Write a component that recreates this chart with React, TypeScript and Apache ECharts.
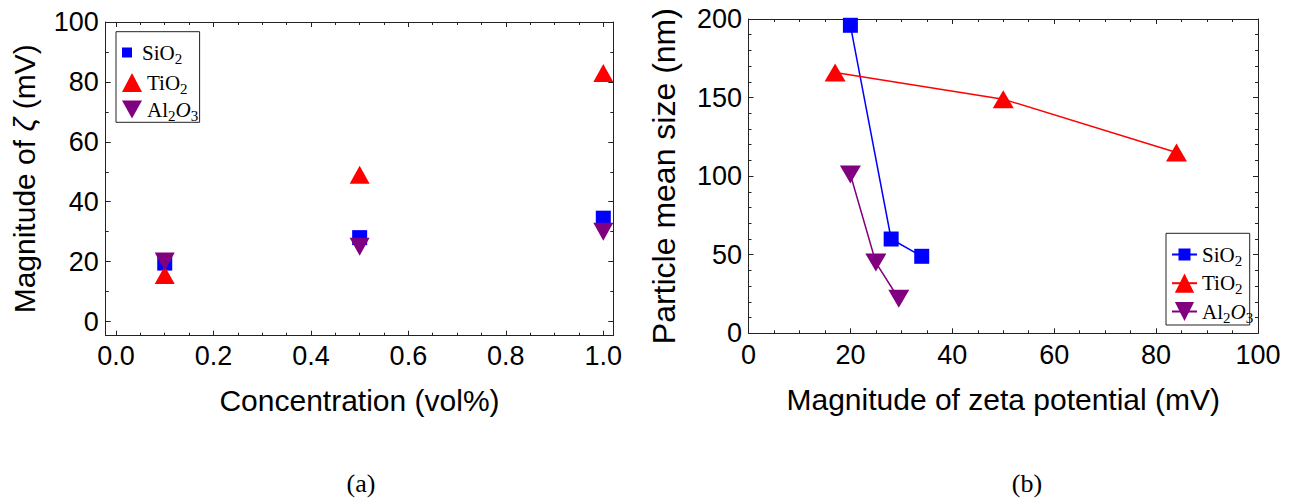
import { useEffect, useRef } from 'react';
import * as echarts from 'echarts';

// ---------- data (a): zeta magnitude vs concentration ----------
const CONCENTRATION = [0.1, 0.5, 1.0];
const ZETA_SIO2 = [19.5, 28, 34.5];
const ZETA_TIO2 = [15.5, 49, 83];
const ZETA_AL2O3 = [20, 25, 30];

// ---------- data (b): particle mean size vs zeta magnitude ----------
const SIO2_ZETA = [20, 28, 34];
const SIO2_SIZE = [196, 60, 49];
const TIO2_ZETA = [17, 50, 84];
const TIO2_SIZE = [166, 149, 115];
const AL2O3_ZETA = [20, 25, 29.5];
const AL2O3_SIZE = [101, 45, 22];

const SERIES_NAMES = ['SiO2', 'TiO2', 'Al2O3'];
const LEGEND_RICH_TEXT: Record<string, string> = {
  SiO2: '{n|SiO}{s|2}',
  TiO2: '{n|TiO}{s|2}',
  Al2O3: '{n|Al}{s|2}{i|O}{s|3}',
};
const PANEL_LABELS = ['(a)', '(b)'];

const BLUE = '#0000ff';
const RED = '#ff0000';
const PURPLE = '#800080';
const FRAME = '#222';
const SANS = '"Liberation Sans", Arial, sans-serif';
const SERIF = '"Liberation Serif", "Times New Roman", serif';
const DOWN_TRIANGLE = 'path://M0,0L20,0L10,18Z';

const pairs = (xs: number[], ys: number[]) => xs.map((x, i) => [x, ys[i]]);

const legendRich = {
  n: { fontFamily: SERIF, fontSize: 21, lineHeight: 22, color: '#000' },
  i: { fontFamily: SERIF, fontSize: 21, lineHeight: 22, fontStyle: 'italic', color: '#000' },
  s: { fontFamily: SERIF, fontSize: 15, lineHeight: 22, padding: [12, 0, 0, 0], color: '#000' },
};

const legendFormatter = (name: string) => LEGEND_RICH_TEXT[name.replace('_b', '')] || name;

const frameLine = { show: true, onZero: false, lineStyle: { color: FRAME, width: 1 } };
const noLine = { show: false, onZero: false };

function tickAxis(extra: any) {
  return {
    type: 'value',
    axisLine: noLine,
    axisTick: { show: true, inside: true, length: 5, lineStyle: { color: FRAME, width: 1 } },
    splitLine: { show: false },
    ...extra,
  };
}

function frameAxis(extra: any) {
  return {
    type: 'value',
    min: 0,
    max: 1,
    axisLine: frameLine,
    axisTick: { show: false },
    axisLabel: { show: false },
    splitLine: { show: false },
    ...extra,
  };
}

const minor = (n: number) => ({ show: true, splitNumber: n, length: 3, lineStyle: { color: FRAME, width: 1 } });

const tickLabel = (margin: number, formatter?: any) => ({
  show: true,
  color: '#000',
  fontFamily: SANS,
  fontSize: 27,
  margin,
  ...(formatter ? { formatter } : {}),
});

function makeLegend(name: string, left: number, top: number, w: number, h: number, icon?: string) {
  return {
    show: true,
    orient: 'vertical',
    left,
    top,
    padding: 0,
    itemWidth: w,
    itemHeight: h,
    selectedMode: false,
    data: [icon ? { name, icon } : { name }],
    formatter: legendFormatter,
    textStyle: { fontFamily: SERIF, fontSize: 21, color: '#000', rich: legendRich },
  };
}

export default function App() {
  const ref = useRef<HTMLDivElement>(null);

  useEffect(() => {
    if (!ref.current) return;
    const chart = echarts.init(ref.current, undefined, { renderer: 'svg' });

    // left panel geometry
    const aDataLeft = 116, aDataTop = 22, aDataW = 487.3, aDataH = 299.5;
    const aFrameLeft = 105.7, aFrameTop = 22, aFrameW = 507.6, aFrameH = 313.7;
    // right panel geometry
    const bLeft = 748.5, bTop = 19, bW = 509.5, bH = 314.3;

    const titleStyle = (size: number) => ({ fontFamily: SANS, fontSize: size, color: '#000' });

    const option: any = {
      animation: false,
      backgroundColor: '#fff',
      textStyle: { fontFamily: SANS },
      grid: [
        { left: aDataLeft, top: aDataTop, width: aDataW, height: aDataH, show: false },
        { left: aFrameLeft, top: aFrameTop, width: aFrameW, height: aFrameH, show: false },
        { left: bLeft, top: bTop, width: bW, height: bH, show: false },
      ],
      xAxis: [
        tickAxis({
          gridIndex: 0, position: 'bottom', min: 0, max: 1, interval: 0.2,
          offset: aFrameTop + aFrameH - (aDataTop + aDataH),
          minorTick: minor(4),
          axisLabel: tickLabel(7, (v: number) => v.toFixed(1)),
        }),
        tickAxis({
          gridIndex: 0, position: 'top', min: 0, max: 1, interval: 0.2, offset: 0,
          minorTick: minor(4),
          axisLabel: { show: false },
        }),
        frameAxis({
          gridIndex: 1, position: 'bottom',
          name: 'Concentration (vol%)', nameLocation: 'middle', nameGap: 50,
          nameTextStyle: titleStyle(30),
        }),
        frameAxis({ gridIndex: 1, position: 'top' }),
        tickAxis({
          gridIndex: 2, position: 'bottom', min: 0, max: 100, interval: 20,
          axisLine: frameLine,
          minorTick: minor(4),
          axisLabel: tickLabel(8),
          name: 'Magnitude of zeta potential (mV)', nameLocation: 'middle', nameGap: 51,
          nameTextStyle: titleStyle(30),
        }),
        tickAxis({
          gridIndex: 2, position: 'top', min: 0, max: 100, interval: 20,
          axisLine: frameLine,
          minorTick: minor(4),
          axisLabel: { show: false },
        }),
      ],
      yAxis: [
        tickAxis({
          gridIndex: 0, position: 'left', min: 0, max: 100, interval: 20,
          offset: aDataLeft - aFrameLeft,
          minorTick: minor(2),
          axisLabel: tickLabel(7),
        }),
        tickAxis({
          gridIndex: 0, position: 'right', min: 0, max: 100, interval: 20,
          offset: aFrameLeft + aFrameW - (aDataLeft + aDataW),
          minorTick: minor(2),
          axisLabel: { show: false },
        }),
        frameAxis({
          gridIndex: 1, position: 'left',
          name: '{a|Magnitude of }{z|ζ}{a| (mV)}', nameLocation: 'middle', nameGap: 66, nameRotate: 90,
          nameTextStyle: {
            ...titleStyle(30),
            rich: {
              a: titleStyle(30),
              z: { ...titleStyle(30), fontStyle: 'italic' },
            },
          },
        }),
        frameAxis({ gridIndex: 1, position: 'right' }),
        tickAxis({
          gridIndex: 2, position: 'left', min: 0, max: 200, interval: 50,
          axisLine: frameLine,
          minorTick: minor(5),
          axisLabel: tickLabel(6.5),
          name: 'Particle mean size (nm)', nameLocation: 'middle', nameGap: 69, nameRotate: 90,
          nameTextStyle: titleStyle(32),
        }),
        tickAxis({
          gridIndex: 2, position: 'right', min: 0, max: 200, interval: 50,
          axisLine: frameLine,
          minorTick: minor(5),
          axisLabel: { show: false },
        }),
      ],
      legend: [
        makeLegend(SERIES_NAMES[0], 122, 39, 20, 10, 'path://M0,0h10v10h-10z'),
        makeLegend(SERIES_NAMES[1], 122, 69, 20, 19),
        makeLegend(SERIES_NAMES[2], 122, 96, 20, 19),
        makeLegend(SERIES_NAMES[0] + '_b', 1171, 241, 25, 15),
        makeLegend(SERIES_NAMES[1] + '_b', 1171, 269.7, 25, 24),
        makeLegend(SERIES_NAMES[2] + '_b', 1171, 298, 25, 24),
      ],
      series: [
        {
          type: 'scatter', name: SERIES_NAMES[0], xAxisIndex: 0, yAxisIndex: 0, clip: false,
          symbol: 'rect', symbolSize: 15, itemStyle: { color: BLUE, opacity: 1 },
          data: pairs(CONCENTRATION, ZETA_SIO2),
        },
        {
          type: 'scatter', name: SERIES_NAMES[1], xAxisIndex: 0, yAxisIndex: 0, clip: false,
          symbol: 'triangle', symbolSize: [20, 18], itemStyle: { color: RED, opacity: 1 },
          data: pairs(CONCENTRATION, ZETA_TIO2),
        },
        {
          type: 'scatter', name: SERIES_NAMES[2], xAxisIndex: 0, yAxisIndex: 0, clip: false,
          symbol: DOWN_TRIANGLE, symbolSize: [20, 18], itemStyle: { color: PURPLE, opacity: 1 },
          data: pairs(CONCENTRATION, ZETA_AL2O3),
        },
        {
          type: 'line', name: SERIES_NAMES[0] + '_b', xAxisIndex: 4, yAxisIndex: 4, clip: false,
          symbol: 'rect', symbolSize: 15, showSymbol: true,
          itemStyle: { color: BLUE }, lineStyle: { color: BLUE, width: 1.5 },
          data: pairs(SIO2_ZETA, SIO2_SIZE),
        },
        {
          type: 'line', name: SERIES_NAMES[1] + '_b', xAxisIndex: 4, yAxisIndex: 4, clip: false,
          symbol: 'triangle', symbolSize: [21, 18], showSymbol: true,
          itemStyle: { color: RED }, lineStyle: { color: RED, width: 1.5 },
          data: pairs(TIO2_ZETA, TIO2_SIZE),
        },
        {
          type: 'line', name: SERIES_NAMES[2] + '_b', xAxisIndex: 4, yAxisIndex: 4, clip: false,
          symbol: DOWN_TRIANGLE, symbolSize: [21, 18], showSymbol: true,
          itemStyle: { color: PURPLE }, lineStyle: { color: PURPLE, width: 1.5 },
          data: pairs(AL2O3_ZETA, AL2O3_SIZE),
        },
      ],
      graphic: [
        { type: 'rect', shape: { x: 116, y: 31.7, width: 83.6, height: 90.6 }, style: { fill: 'none', stroke: FRAME, lineWidth: 1 } },
        { type: 'rect', shape: { x: 1166, y: 233.3, width: 83.7, height: 91.7 }, style: { fill: 'none', stroke: FRAME, lineWidth: 1 } },
        { type: 'text', x: 361, y: 483, style: { text: PANEL_LABELS[0], font: '26px "Liberation Serif"', fill: '#000', align: 'center', verticalAlign: 'middle' } },
        { type: 'text', x: 1027, y: 483, style: { text: PANEL_LABELS[1], font: '26px "Liberation Serif"', fill: '#000', align: 'center', verticalAlign: 'middle' } },
      ],
    };

    chart.setOption(option);
    return () => chart.dispose();
  }, []);

  return (
    <div
      ref={ref}
      style={{ position: 'fixed', left: 0, top: 0, width: 1298, height: 503, background: '#fff' }}
    />
  );
}
